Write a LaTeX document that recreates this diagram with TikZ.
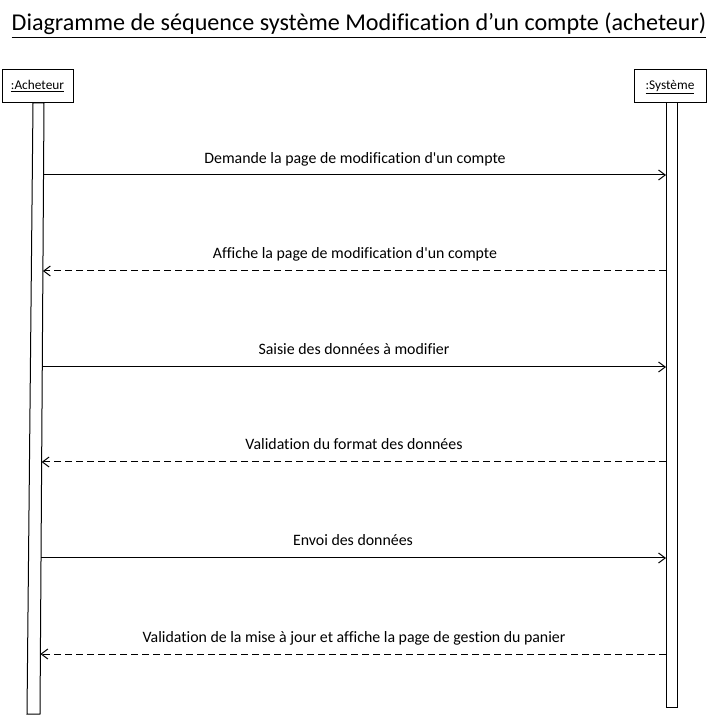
\documentclass[tikz,border=0pt]{standalone}
\usepackage{fontspec}
\setmainfont{Carlito}[Ligatures={TeXOff,NoCommon}]
\usetikzlibrary{arrows.meta}

\tikzset{
    acteur/.style={rectangle, draw, minimum height=24.75pt, inner sep=0pt,
        text height=7pt, text depth=2.5pt, font=\fontsize{10}{12}\selectfont},
    texte/.style={anchor=base, font=\fontsize{11.9}{14}\selectfont},
    appel/.style={->},
    retour/.style={->, dash pattern=on 5.25pt off 3pt}
}

\begin{document}
\begin{tikzpicture}[x=0.75pt, y=-0.75pt, line width=0.75pt,
    >={Straight Barb[length=5pt, width=7.5pt]}]
    \useasboundingbox (0, 0) rectangle (718, 716);

    \node[anchor=base, font=\fontsize{18.1}{22}\selectfont] (titre) at (359, 31)
        {\underline{Diagramme de séquence système Modification d’un compte (acheteur)}};

    % les objets
    \node[acteur, minimum width=53.25pt] (acheteur) at (37.5, 86.5) {\underline{:Acheteur}};
    \node[acteur, minimum width=54pt] (systeme) at (670, 86.5) {\underline{:Système}};

    % les barres d'activation
    \coordinate (a-no) at (33, 103);
    \coordinate (a-ne) at (44, 103);
    \coordinate (a-se) at (40, 714);
    \coordinate (a-so) at (27, 714);
    \draw (a-no) -- (a-ne) -- (a-se) -- (a-so) -- cycle;
    \draw (666, 103) rectangle (677, 707);

    % bouts des messages
    \coordinate (a1) at (43.5, 175);
    \coordinate (a2) at (42.9, 271);
    \coordinate (a3) at (42.3, 367);
    \coordinate (a4) at (41.6, 462);
    \coordinate (a5) at (41.0, 558);
    \coordinate (a6) at (40.4, 654);
    \coordinate (s1) at (666, 175);
    \coordinate (s2) at (666, 271);
    \coordinate (s3) at (666, 367);
    \coordinate (s4) at (666, 462);
    \coordinate (s5) at (666, 558);
    \coordinate (s6) at (666, 654);

    % les messages
    \node[texte] (m1) at (355, 164) {Demande la page de modification d'un compte};
    \node[texte] (m2) at (355, 259) {Affiche la page de modification d'un compte};
    \node[texte] (m3) at (354, 355) {Saisie des données à modifier};
    \node[texte] (m4) at (354, 450) {Validation du format des données};
    \node[texte] (m5) at (353, 546) {Envoi des données};
    \node[texte] (m6) at (354, 642) {Validation de la mise à jour et affiche la page de gestion du panier};

    \draw[appel] (a1) -- (s1);
    \draw[retour] (s2) -- (a2);
    \draw[appel] (a3) -- (s3);
    \draw[retour] (s4) -- (a4);
    \draw[appel] (a5) -- (s5);
    \draw[retour] (s6) -- (a6);

\end{tikzpicture}
\end{document}
